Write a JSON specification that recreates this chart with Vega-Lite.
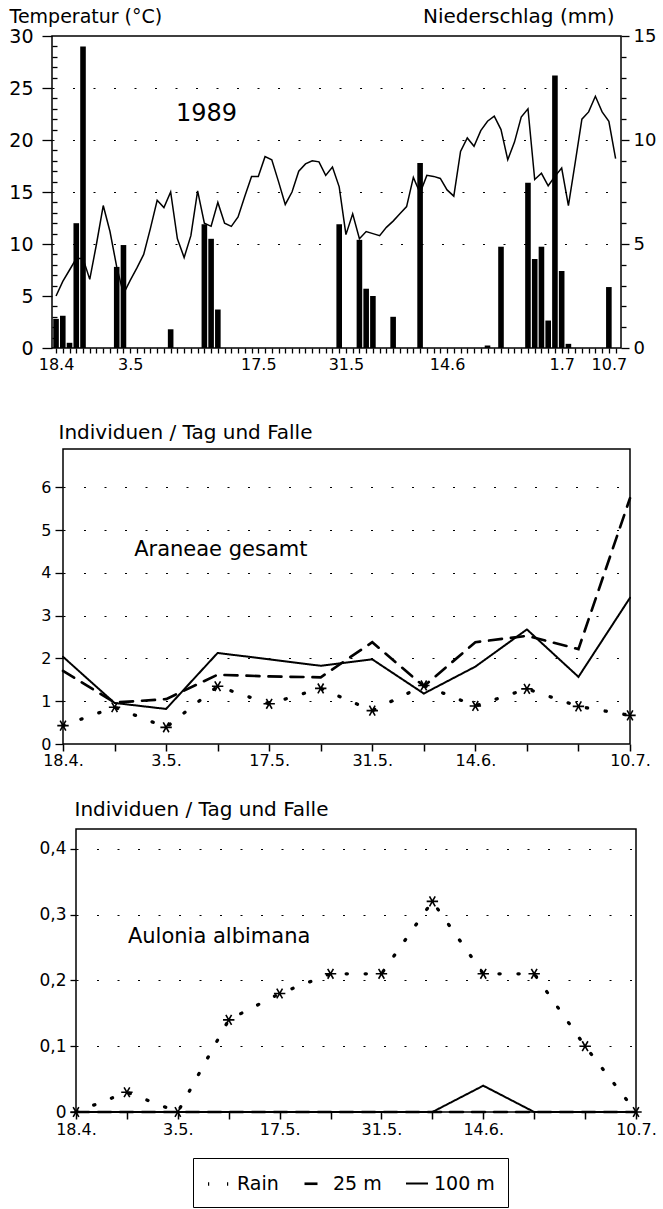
{
  "$schema": "https://vega.github.io/schema/vega-lite/v6.json",
  "padding": {"left": 7, "top": 5, "right": 0, "bottom": 0},
  "background": "white",
  "spacing": 0,
  "config": {
    "font": "DejaVu Sans",
    "view": {"stroke": "black", "strokeWidth": 1.5},
    "axis": {"labelFont": "DejaVu Sans", "titleFont": "DejaVu Sans", "labelColor": "black", "titleColor": "black", "tickColor": "black", "domain": false, "tickWidth": 1.3, "gridColor": "black", "titleFontWeight": "normal", "labelOverlap": false, "labelFlush": false, "labelBound": false},
    "text": {"font": "DejaVu Sans", "color": "black"}
  },
  "datasets": {
    "temp": [
      {"day":0,"temp":5.0},{"day":1,"temp":6.4},{"day":2,"temp":7.5},{"day":3,"temp":8.6},{"day":4,"temp":8.6},{"day":5,"temp":6.6},{"day":6,"temp":10.0},{"day":7,"temp":13.7},{"day":8,"temp":11.2},{"day":9,"temp":7.8},
      {"day":10,"temp":5.2},{"day":11,"temp":6.5},{"day":12,"temp":7.7},{"day":13,"temp":9.0},{"day":14,"temp":11.5},{"day":15,"temp":14.2},{"day":16,"temp":13.5},{"day":17,"temp":15.0},{"day":18,"temp":10.5},{"day":19,"temp":8.7},
      {"day":20,"temp":10.8},{"day":21,"temp":15.1},{"day":22,"temp":12.0},{"day":23,"temp":11.7},{"day":24,"temp":14.0},{"day":25,"temp":12.0},{"day":26,"temp":11.7},{"day":27,"temp":12.6},{"day":28,"temp":14.6},{"day":29,"temp":16.5},
      {"day":30,"temp":16.5},{"day":31,"temp":18.4},{"day":32,"temp":18.1},{"day":33,"temp":16.0},{"day":34,"temp":13.8},{"day":35,"temp":15.0},{"day":36,"temp":17.0},{"day":37,"temp":17.7},{"day":38,"temp":18.0},{"day":39,"temp":17.9},
      {"day":40,"temp":16.6},{"day":41,"temp":17.4},{"day":42,"temp":15.5},{"day":43,"temp":10.9},{"day":44,"temp":12.9},{"day":45,"temp":10.5},{"day":46,"temp":11.2},{"day":47,"temp":11.0},{"day":48,"temp":10.8},{"day":49,"temp":11.6},
      {"day":50,"temp":12.2},{"day":51,"temp":12.9},{"day":52,"temp":13.6},{"day":53,"temp":16.4},{"day":54,"temp":14.9},{"day":55,"temp":16.6},{"day":56,"temp":16.5},{"day":57,"temp":16.3},{"day":58,"temp":15.2},{"day":59,"temp":14.6},
      {"day":60,"temp":18.9},{"day":61,"temp":20.2},{"day":62,"temp":19.4},{"day":63,"temp":20.9},{"day":64,"temp":21.8},{"day":65,"temp":22.3},{"day":66,"temp":21.0},{"day":67,"temp":18.1},{"day":68,"temp":19.8},{"day":69,"temp":22.2},
      {"day":70,"temp":23.0},{"day":71,"temp":16.2},{"day":72,"temp":16.8},{"day":73,"temp":15.6},{"day":74,"temp":16.5},{"day":75,"temp":17.3},{"day":76,"temp":13.7},{"day":77,"temp":17.8},{"day":78,"temp":22.0},{"day":79,"temp":22.7},
      {"day":80,"temp":24.2},{"day":81,"temp":22.7},{"day":82,"temp":21.8},{"day":83,"temp":18.2}
    ],
    "precip": [
      {"day":0,"mm":1.4},{"day":1,"mm":1.55},{"day":2,"mm":0.25},{"day":3,"mm":6.0},{"day":4,"mm":14.5},{"day":9,"mm":3.9},{"day":10,"mm":4.95},{"day":17,"mm":0.9},
      {"day":22,"mm":5.95},{"day":23,"mm":5.25},{"day":24,"mm":1.85},{"day":42,"mm":5.95},{"day":45,"mm":5.2},{"day":46,"mm":2.85},{"day":47,"mm":2.5},{"day":50,"mm":1.5},
      {"day":54,"mm":8.9},{"day":64,"mm":0.12},{"day":66,"mm":4.87},{"day":70,"mm":7.95},{"day":71,"mm":4.28},{"day":72,"mm":4.87},{"day":73,"mm":1.32},{"day":74,"mm":13.1},
      {"day":75,"mm":3.7},{"day":76,"mm":0.2},{"day":82,"mm":2.93}
    ],
    "araneae": [
      {"idx":0,"series":"Rain","value":0.43},{"idx":1,"series":"Rain","value":0.86},{"idx":2,"series":"Rain","value":0.39},{"idx":3,"series":"Rain","value":1.35},{"idx":4,"series":"Rain","value":0.94},{"idx":5,"series":"Rain","value":1.30},
      {"idx":6,"series":"Rain","value":0.78},{"idx":7,"series":"Rain","value":1.37},{"idx":8,"series":"Rain","value":0.89},{"idx":9,"series":"Rain","value":1.29},{"idx":10,"series":"Rain","value":0.88},{"idx":11,"series":"Rain","value":0.67},
      {"idx":0,"series":"25 m","value":1.71},{"idx":1,"series":"25 m","value":0.97},{"idx":2,"series":"25 m","value":1.05},{"idx":3,"series":"25 m","value":1.62},{"idx":4,"series":"25 m","value":1.58},{"idx":5,"series":"25 m","value":1.56},
      {"idx":6,"series":"25 m","value":2.38},{"idx":7,"series":"25 m","value":1.35},{"idx":8,"series":"25 m","value":2.38},{"idx":9,"series":"25 m","value":2.53},{"idx":10,"series":"25 m","value":2.22},{"idx":11,"series":"25 m","value":5.75},
      {"idx":0,"series":"100 m","value":2.04},{"idx":1,"series":"100 m","value":0.96},{"idx":2,"series":"100 m","value":0.82},{"idx":3,"series":"100 m","value":2.13},{"idx":4,"series":"100 m","value":1.98},{"idx":5,"series":"100 m","value":1.83},
      {"idx":6,"series":"100 m","value":1.98},{"idx":7,"series":"100 m","value":1.18},{"idx":8,"series":"100 m","value":1.81},{"idx":9,"series":"100 m","value":2.68},{"idx":10,"series":"100 m","value":1.57},{"idx":11,"series":"100 m","value":3.42}
    ],
    "aulonia": [
      {"idx":0,"series":"Rain","value":0},{"idx":1,"series":"Rain","value":0.03},{"idx":2,"series":"Rain","value":0},{"idx":3,"series":"Rain","value":0.14},{"idx":4,"series":"Rain","value":0.18},{"idx":5,"series":"Rain","value":0.21},
      {"idx":6,"series":"Rain","value":0.21},{"idx":7,"series":"Rain","value":0.32},{"idx":8,"series":"Rain","value":0.21},{"idx":9,"series":"Rain","value":0.21},{"idx":10,"series":"Rain","value":0.10},{"idx":11,"series":"Rain","value":0},
      {"idx":0,"series":"25 m","value":0},{"idx":1,"series":"25 m","value":0},{"idx":2,"series":"25 m","value":0},{"idx":3,"series":"25 m","value":0},{"idx":4,"series":"25 m","value":0},{"idx":5,"series":"25 m","value":0},
      {"idx":6,"series":"25 m","value":0},{"idx":7,"series":"25 m","value":0},{"idx":8,"series":"25 m","value":0},{"idx":9,"series":"25 m","value":0},{"idx":10,"series":"25 m","value":0},{"idx":11,"series":"25 m","value":0},
      {"idx":0,"series":"100 m","value":0},{"idx":1,"series":"100 m","value":0},{"idx":2,"series":"100 m","value":0},{"idx":3,"series":"100 m","value":0},{"idx":4,"series":"100 m","value":0},{"idx":5,"series":"100 m","value":0},
      {"idx":6,"series":"100 m","value":0},{"idx":7,"series":"100 m","value":0},{"idx":8,"series":"100 m","value":0.04},{"idx":9,"series":"100 m","value":0},{"idx":10,"series":"100 m","value":0},{"idx":11,"series":"100 m","value":0}
    ]
  },
  "vconcat": [
    {
      "spacing": 0,
      "hconcat": [
        {"width": 1, "height": 1, "data": {"values": []}, "mark": "point", "view": {"stroke": null}},
        {
          "width": 569,
          "height": 312,
          "layer": [
            {
              "data": {"name": "precip"},
              "mark": {"type": "bar", "color": "black", "size": 5.6},
              "encoding": {
                "x": {"field": "day", "type": "quantitative", "scale": {"domain": [-0.6, 83.8], "nice": false, "zero": false, "padding": 0},
                  "axis": {"title": null, "values": [0,1,2,3,4,5,6,7,8,9,10,11,12,13,14,15,16,17,18,19,20,21,22,23,24,25,26,27,28,29,30,31,32,33,34,35,36,37,38,39,40,41,42,43,44,45,46,47,48,49,50,51,52,53,54,55,56,57,58,59,60,61,62,63,64,65,66,67,68,69,70,71,72,73,74,75,76,77,78,79,80,81,82,83],
                    "labelExpr": "datum.value === 0 ? '18.4' : datum.value === 11 ? '3.5' : datum.value === 30 ? '17.5' : datum.value === 43 ? '31.5' : datum.value === 58 ? '14.6' : datum.value === 75 ? '1.7' : datum.value === 82 ? '10.7' : ''",
                    "tickSize": 5, "labelPadding": 3, "labelFontSize": 16, "labelOverlap": false, "labelFlush": false, "grid": false, "minExtent": 72}},
                "y": {"field": "mm", "type": "quantitative", "scale": {"domain": [0, 15], "nice": false, "padding": 0},
                  "axis": {"orient": "right", "values": [0,1,2,3,4,5,6,7,8,9,10,11,12,13,14,15],
                    "labelExpr": "datum.value % 5 === 0 ? datum.label : ''",
                    "tickSize": {"condition": {"test": "datum.value % 5 === 0", "value": 8}, "value": 5},
                    "labelPadding": 4, "labelFontSize": 18, "grid": false, "labelOverlap": false,
                    "title": "Niederschlag (mm)", "titleAngle": 0, "titleAlign": "right", "titleBaseline": "alphabetic", "titleX": -7, "titleY": -14, "titleFontSize": 20}}
              }
            },
            {
              "data": {"name": "temp"},
              "mark": {"type": "line", "color": "black", "strokeWidth": 1.5},
              "encoding": {
                "x": {"field": "day", "type": "quantitative", "scale": {"domain": [-0.6, 83.8], "nice": false, "zero": false, "padding": 0},
                  "axis": {"title": null, "values": [0,1,2,3,4,5,6,7,8,9,10,11,12,13,14,15,16,17,18,19,20,21,22,23,24,25,26,27,28,29,30,31,32,33,34,35,36,37,38,39,40,41,42,43,44,45,46,47,48,49,50,51,52,53,54,55,56,57,58,59,60,61,62,63,64,65,66,67,68,69,70,71,72,73,74,75,76,77,78,79,80,81,82,83],
                    "labelExpr": "datum.value === 0 ? '18.4' : datum.value === 11 ? '3.5' : datum.value === 30 ? '17.5' : datum.value === 43 ? '31.5' : datum.value === 58 ? '14.6' : datum.value === 75 ? '1.7' : datum.value === 82 ? '10.7' : ''",
                    "tickSize": 5, "labelPadding": 3, "labelFontSize": 16, "labelOverlap": false, "labelFlush": false, "grid": false, "minExtent": 72}},
                "y": {"field": "temp", "type": "quantitative", "scale": {"domain": [0, 30], "nice": false},
                  "axis": {"orient": "left", "values": [0,1,2,3,4,5,6,7,8,9,10,11,12,13,14,15,16,17,18,19,20,21,22,23,24,25,26,27,28,29,30],
                    "labelExpr": "datum.value % 5 === 0 ? datum.label : ''",
                    "tickSize": {"condition": {"test": "datum.value % 5 === 0", "value": 10}, "value": -5},
                    "labelPadding": 9, "labelFontSize": 19, "labelOverlap": false,
                    "grid": true, "gridDash": [2, 18.5], "gridWidth": 1.2,
                    "gridOpacity": {"condition": {"test": "datum.value >= 10 && datum.value <= 25 && datum.value % 5 === 0", "value": 1}, "value": 0},
                    "title": "Temperatur (°C)", "titleAngle": 0, "titleAlign": "left", "titleBaseline": "alphabetic", "titleX": -43, "titleY": -14, "titleFontSize": 19,
                    "minExtent": 43, "maxExtent": 43}}
              }
            },
            {
              "data": {"values": [{"label": "1989"}]},
              "mark": {"type": "text", "fontSize": 24, "align": "left", "baseline": "alphabetic"},
              "encoding": {
                "x": {"datum": 17.8, "type": "quantitative", "scale": {"domain": [-0.6, 83.8], "nice": false, "zero": false, "padding": 0},
                  "axis": {"title": null, "values": [0,1,2,3,4,5,6,7,8,9,10,11,12,13,14,15,16,17,18,19,20,21,22,23,24,25,26,27,28,29,30,31,32,33,34,35,36,37,38,39,40,41,42,43,44,45,46,47,48,49,50,51,52,53,54,55,56,57,58,59,60,61,62,63,64,65,66,67,68,69,70,71,72,73,74,75,76,77,78,79,80,81,82,83],
                    "labelExpr": "datum.value === 0 ? '18.4' : datum.value === 11 ? '3.5' : datum.value === 30 ? '17.5' : datum.value === 43 ? '31.5' : datum.value === 58 ? '14.6' : datum.value === 75 ? '1.7' : datum.value === 82 ? '10.7' : ''",
                    "tickSize": 5, "labelPadding": 3, "labelFontSize": 16, "labelOverlap": false, "labelFlush": false, "grid": false, "minExtent": 72}},
                "y": {"datum": 21.8, "type": "quantitative", "scale": {"domain": [0, 30], "nice": false}, "axis": null},
                "text": {"field": "label"}
              }
            }
          ],
          "resolve": {"scale": {"y": "independent"}}
        }
      ]
    },
    {
      "spacing": 0,
      "hconcat": [
        {"width": 12, "height": 1, "data": {"values": []}, "mark": "point", "view": {"stroke": null}},
        {
          "width": 567,
          "height": 295,
          "layer": [
            {
              "data": {"name": "araneae"},
              "mark": {"type": "line", "color": "black", "strokeCap": "round"},
              "encoding": {
                "x": {"field": "idx", "type": "quantitative", "scale": {"domain": [0, 11], "nice": false, "zero": false},
                  "axis": {"title": null, "values": [0,1,2,3,4,5,6,7,8,9,10,11],
                    "labelExpr": "datum.value === 0 ? '18.4.' : datum.value === 2 ? '3.5.' : datum.value === 4 ? '17.5.' : datum.value === 6 ? '31.5.' : datum.value === 8 ? '14.6.' : datum.value === 11 ? '10.7.' : ''",
                    "tickSize": 7, "tickWidth": 1.5, "labelPadding": 1, "labelFontSize": 16, "labelOverlap": false, "labelFlush": false, "grid": false, "minExtent": 53}},
                "y": {"field": "value", "type": "quantitative", "scale": {"domain": [0, 6.9], "nice": false},
                  "axis": {"values": [0,1,2,3,4,5,6], "tickSize": 8, "labelPadding": 4, "labelFontSize": 16,
                    "grid": true, "gridDash": [2, 18.5], "gridWidth": 1.2,
                    "gridOpacity": {"condition": {"test": "datum.value === 0", "value": 0}, "value": 1},
                    "title": "Individuen / Tag und Falle", "titleAngle": 0, "titleAlign": "left", "titleBaseline": "alphabetic", "titleX": -5, "titleY": -11, "titleFontSize": 20,
                    "minExtent": 43, "maxExtent": 43}},
                "strokeDash": {"field": "series", "type": "nominal",
                  "scale": {"domain": ["Rain", "25 m", "100 m"], "range": [[1.2, 17.8], [13, 9], [1, 0]]},
                  "legend": {"orient": "none", "legendX": 186, "legendY": 1122, "direction": "horizontal", "title": null,
                    "strokeColor": "black", "padding": 13, "labelFont": "DejaVu Sans", "labelFontSize": 19, "labelColor": "black",
                    "labelOffset": 5, "columnPadding": 20, "symbolSize": 484, "symbolStrokeWidth": 2, "symbolType": "stroke"}},
                "strokeWidth": {"field": "series", "type": "nominal", "scale": {"domain": ["Rain", "25 m", "100 m"], "range": [3.3, 2, 2]}, "legend": null}
              }
            },
            {
              "data": {"name": "araneae"},
              "transform": [{"filter": "datum.series === 'Rain'"}],
              "mark": {"type": "point", "shape": "M-1,0L1,0M-0.5,-0.866L0.5,0.866M-0.5,0.866L0.5,-0.866", "filled": false, "stroke": "black", "strokeWidth": 1.6, "size": 130, "opacity": 1},
              "encoding": {
                "x": {"field": "idx", "type": "quantitative"},
                "y": {"field": "value", "type": "quantitative"}
              }
            },
            {
              "data": {"values": [{"label": "Araneae gesamt"}]},
              "mark": {"type": "text", "fontSize": 21, "align": "left", "baseline": "alphabetic"},
              "encoding": {
                "x": {"datum": 1.38, "type": "quantitative"},
                "y": {"datum": 4.4, "type": "quantitative"},
                "text": {"field": "label"}
              }
            }
          ]
        }
      ]
    },
    {
      "spacing": 0,
      "hconcat": [
        {"width": 25, "height": 1, "data": {"values": []}, "mark": "point", "view": {"stroke": null}},
        {
          "width": 560,
          "height": 283,
          "layer": [
            {
              "data": {"name": "aulonia"},
              "mark": {"type": "line", "color": "black", "strokeCap": "round"},
              "encoding": {
                "x": {"field": "idx", "type": "quantitative", "scale": {"domain": [0, 11], "nice": false, "zero": false},
                  "axis": {"title": null, "values": [0,1,2,3,4,5,6,7,8,9,10,11],
                    "labelExpr": "datum.value === 0 ? '18.4.' : datum.value === 2 ? '3.5.' : datum.value === 4 ? '17.5.' : datum.value === 6 ? '31.5.' : datum.value === 8 ? '14.6.' : datum.value === 11 ? '10.7.' : ''",
                    "tickSize": 7, "tickWidth": 1.5, "labelPadding": 2, "labelFontSize": 16, "labelOverlap": false, "labelFlush": false, "grid": false}},
                "y": {"field": "value", "type": "quantitative", "scale": {"domain": [0, 0.43], "nice": false},
                  "axis": {"values": [0, 0.1, 0.2, 0.3, 0.4], "tickSize": 6, "labelPadding": 4, "labelFontSize": 17,
                    "labelExpr": "datum.value === 0 ? '0' : replace(format(datum.value, '.1f'), '.', ',')",
                    "grid": true, "gridDash": [2, 18.5], "gridWidth": 1.2,
                    "gridOpacity": {"condition": {"test": "datum.value === 0", "value": 0}, "value": 1},
                    "title": "Individuen / Tag und Falle", "titleAngle": 0, "titleAlign": "left", "titleBaseline": "alphabetic", "titleX": -2, "titleY": -14, "titleFontSize": 20,
                    "minExtent": 43, "maxExtent": 43}},
                "strokeDash": {"field": "series", "type": "nominal",
                  "scale": {"domain": ["Rain", "25 m", "100 m"], "range": [[1.2, 17.8], [13, 9], [1, 0]]},
                  "legend": {"orient": "none", "legendX": 186, "legendY": 1122, "direction": "horizontal", "title": null,
                    "strokeColor": "black", "padding": 13, "labelFont": "DejaVu Sans", "labelFontSize": 19, "labelColor": "black",
                    "labelOffset": 5, "columnPadding": 20, "symbolSize": 484, "symbolStrokeWidth": 2, "symbolType": "stroke"}},
                "strokeWidth": {"field": "series", "type": "nominal", "scale": {"domain": ["Rain", "25 m", "100 m"], "range": [3.3, 2, 2]}, "legend": null}
              }
            },
            {
              "data": {"name": "aulonia"},
              "transform": [{"filter": "datum.series === 'Rain'"}],
              "mark": {"type": "point", "shape": "M-1,0L1,0M-0.5,-0.866L0.5,0.866M-0.5,0.866L0.5,-0.866", "filled": false, "stroke": "black", "strokeWidth": 1.6, "size": 130, "opacity": 1},
              "encoding": {
                "x": {"field": "idx", "type": "quantitative"},
                "y": {"field": "value", "type": "quantitative"}
              }
            },
            {
              "data": {"values": [{"label": "Aulonia albimana"}]},
              "mark": {"type": "text", "fontSize": 21, "align": "left", "baseline": "alphabetic"},
              "encoding": {
                "x": {"datum": 1.02, "type": "quantitative"},
                "y": {"datum": 0.2575, "type": "quantitative"},
                "text": {"field": "label"}
              }
            }
          ]
        }
      ]
    }
  ]
}
